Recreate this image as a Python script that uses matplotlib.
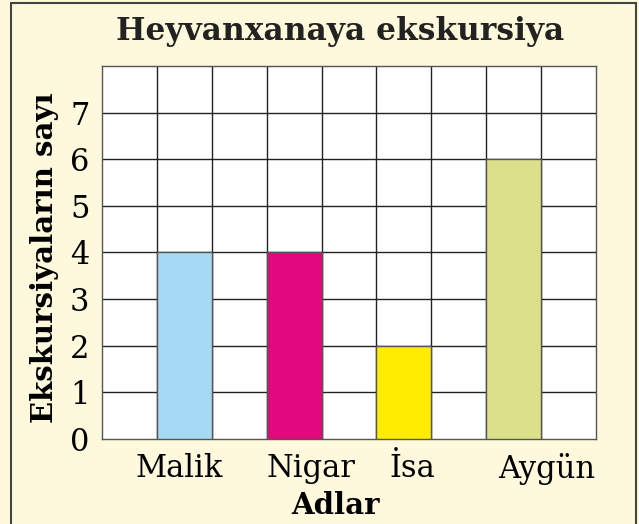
import matplotlib.pyplot as plt
from matplotlib.patches import Rectangle

names = ["Malik", "Nigar", "İsa", "Aygün"]
trips = [4, 4, 2, 6]
bar_left = [1, 3, 5, 7]
label_pos = [1.4, 3.8, 5.65, 8.1]
colors = ["#a6daf4", "#e2097e", "#ffec00", "#dbe08a"]

plt.rcParams['font.family'] = 'DejaVu Serif'

fig = plt.figure(figsize=(6.39, 5.24), dpi=100, facecolor="#fef9dc")
# cerceve
fig.patches.append(Rectangle((11 / 639, -0.01), 625 / 639, 1.0 - 3 / 524 + 0.01,
                             transform=fig.transFigure, fill=False,
                             edgecolor="#444444", linewidth=1.5))

ax = fig.add_axes([102 / 639, 85 / 524, 494 / 639, 373 / 524])
ax.set_facecolor("white")
ax.set_xlim(0, 9)
ax.set_ylim(0, 8)

# setka
for i in range(1, 9):
    ax.axvline(i, color="#222222", linewidth=1, zorder=1)
for j in range(1, 8):
    ax.axhline(j, color="#222222", linewidth=1, zorder=1)

ax.bar(bar_left, trips, width=1, align="edge", color=colors,
       edgecolor="#555555", linewidth=1, zorder=3)

ax.set_yticks(range(8))
ax.set_yticklabels([str(i) for i in range(8)], fontsize=22)
ax.set_xticks(label_pos)
ax.set_xticklabels(names, fontsize=22)
ax.tick_params(which="both", length=0)
ax.tick_params(axis="y", pad=9)
ax.tick_params(axis="x", pad=10)

for s in ax.spines.values():
    s.set_color("#555555")
    s.set_linewidth(1)

ax.set_xlabel("Adlar", fontsize=21, fontweight="bold")
ax.xaxis.set_label_coords(0.472, -0.14)
ax.set_ylabel("Ekskursiyaların sayı", fontsize=21, fontweight="bold")
ax.yaxis.set_label_coords(-0.087, 0.485)

fig.text(340 / 639, 1 - 40 / 524, "Heyvanxanaya ekskursiya", ha="center",
         va="baseline", fontsize=22.5, fontweight="bold", color="#222222")

plt.savefig("out.png", dpi=100, facecolor=fig.get_facecolor())
